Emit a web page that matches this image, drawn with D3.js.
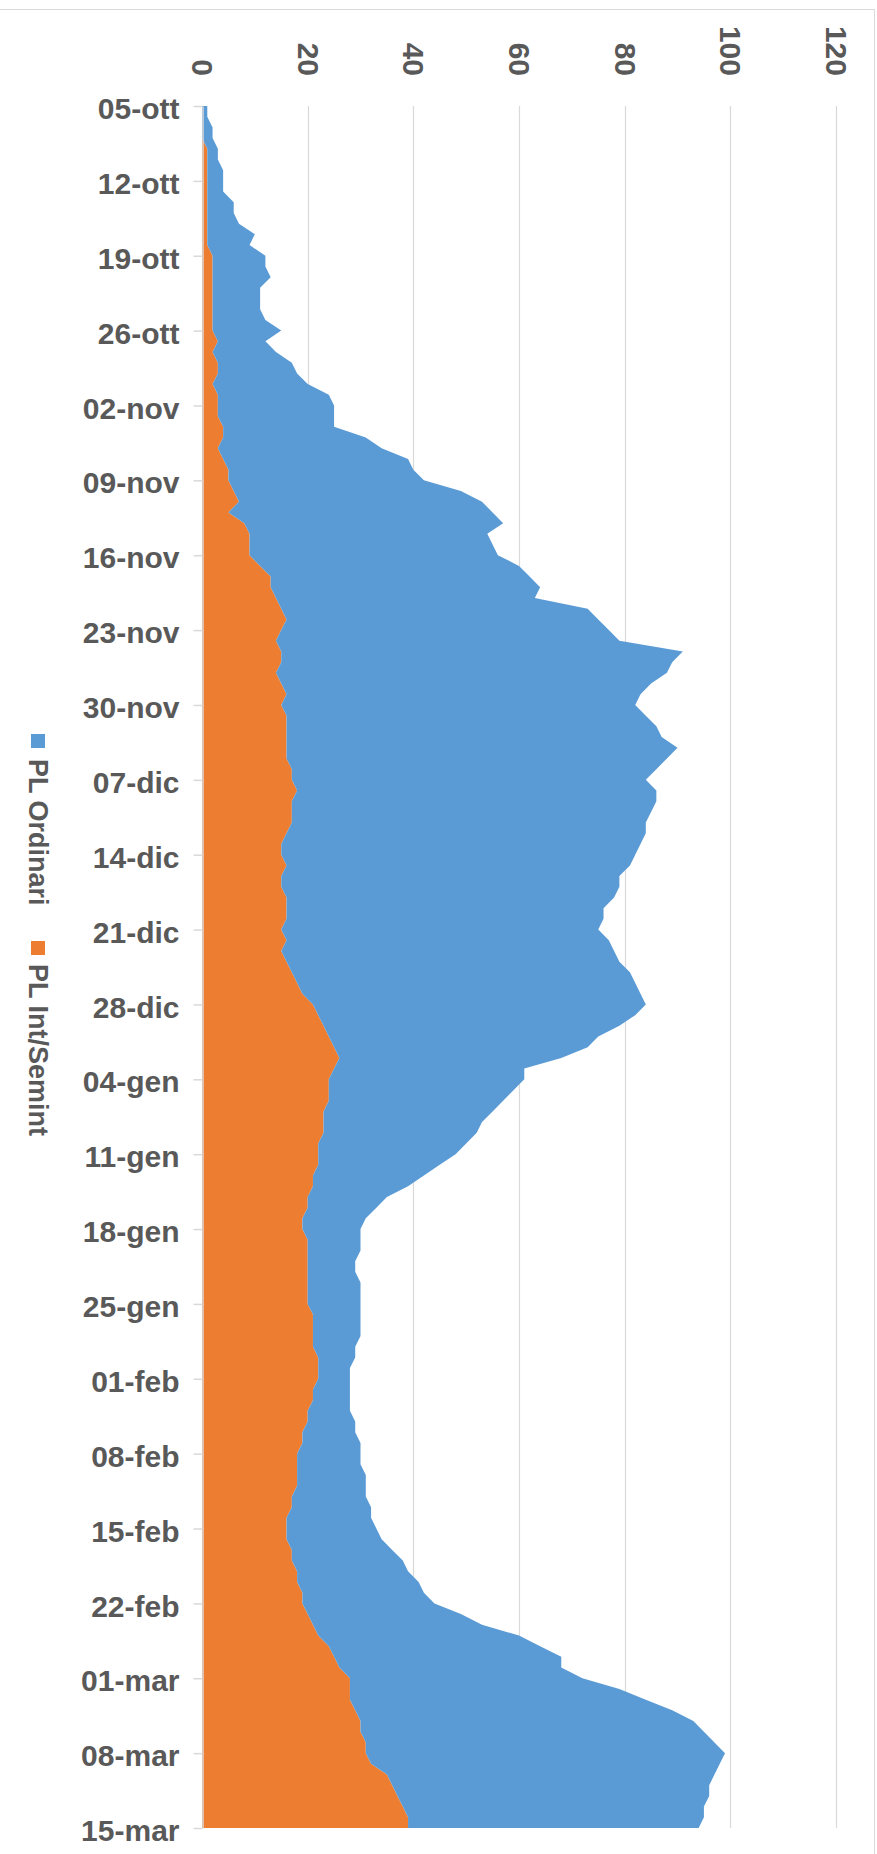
<!DOCTYPE html>
<html><head><meta charset="utf-8">
<script src="https://cdn.jsdelivr.net/npm/d3@7"></script>
<style>
body{margin:0;background:#fff}
svg{display:block}
text{font-family:"Liberation Sans",Arial,sans-serif;font-weight:bold;fill:#595959}
</style>
</head><body>
<svg id="c" width="877" height="1854"></svg>
<script>
// ---- data ----
const startDate = new Date(Date.UTC(2020, 9, 5));
const endDate = new Date(Date.UTC(2021, 2, 15));
const tickLabels = ["05-ott","12-ott","19-ott","26-ott","02-nov","09-nov","16-nov","23-nov","30-nov",
  "07-dic","14-dic","21-dic","28-dic","04-gen","11-gen","18-gen","25-gen","01-feb","08-feb","15-feb",
  "22-feb","01-mar","08-mar","15-mar"];
const valueTicks = [0, 20, 40, 60, 80, 100, 120];
const seriesNames = ["PL Ordinari", "PL Int/Semint"];
const ordinari = [1,1,2,2,2,2,3,3,3,5,5,6,9,8,10,10,11,9,9,9,10,13,9,12,14,15,18,21,22,22,
  21,27,31,35,35,37,43,46,50,49,45,46,47,49,49,51,49,58,59,62,65,76,74,74,70,67,67,68,70,71,
  74,72,69,67,68,69,68,67,68,68,67,65,64,64,62,60,60,60,61,63,63,64,64,64,63,60,56,51,48,42,
  36,37,35,33,32,30,29,28,26,23,21,18,15,13,12,11,10,10,9,9,10,10,10,9,9,9,8,7,6,6,
  7,7,8,9,10,11,12,12,13,13,14,15,16,17,18,19,21,21,23,23,25,29,32,38,40,43,42,44,51,56,
  60,63,65,66,68,66,62,60,59,57,56,55];
const intSemint = [0,0,0,0,1,1,1,1,1,1,1,1,1,1,2,2,2,2,2,2,2,2,3,2,3,3,2,3,3,3,
  4,4,3,4,5,5,6,7,5,8,9,9,9,11,13,13,14,15,16,15,14,15,15,14,15,16,15,16,16,16,
  16,16,17,17,18,17,17,17,16,15,15,16,15,15,16,16,16,15,16,15,16,17,18,19,21,22,23,24,25,26,
  25,24,24,24,23,23,23,22,22,22,21,21,20,20,19,19,20,20,20,20,20,20,20,21,21,21,21,22,22,22,
  21,21,20,20,19,19,18,18,18,18,17,17,16,16,16,17,17,18,18,19,19,20,21,22,24,25,26,28,28,28,
  29,30,30,31,31,32,35,36,37,38,39,39];
const colors = {ordinari: "#5B9BD5", intSemint: "#ED7D31"};

// ---- layout ----
const W = 877, H = 1854;
const plotLeft = 202, plotRight = 836, plotTop = 106, plotBottom = 1828;

const svg = d3.select("#c");
svg.append("rect").attr("width", W).attr("height", H).attr("fill", "#fff");
// chart border (top and right edges visible)
svg.append("rect").attr("x", -2).attr("y", 9.5).attr("width", 876.5).attr("height", H + 10)
  .attr("fill", "none").attr("stroke", "#d9d9d9").attr("stroke-width", 1);

const dates = d3.utcDay.range(startDate, d3.utcDay.offset(endDate, 1));
const rows = dates.map((d, i) => ({date: d, ordinari: ordinari[i], intSemint: intSemint[i]}));
const tickDates = dates.filter((d, i) => i % 7 === 0);

const x = d3.scaleLinear().domain([0, 120]).range([plotLeft, plotRight]);
const y = d3.scaleUtc().domain([startDate, endDate]).range([plotTop, plotBottom]);

// gridlines
svg.append("g").selectAll("line").data(valueTicks.filter(v => v > 0)).join("line")
  .attr("x1", d => Math.round(x(d)) + 0.5).attr("x2", d => Math.round(x(d)) + 0.5)
  .attr("y1", plotTop).attr("y2", plotBottom)
  .attr("stroke", "#d9d9d9").attr("stroke-width", 1.2);

// stacked areas
const stack = d3.stack().keys(["intSemint", "ordinari"]);
const layers = stack(rows);
const area = d3.area()
  .y(d => y(d.data.date))
  .x0(d => x(d[0]))
  .x1(d => x(d[1]));
svg.append("g").selectAll("path").data(layers).join("path")
  .attr("d", area).attr("fill", d => colors[d.key]);

// category axis (left)
const yAxis = d3.axisLeft(y).tickValues(tickDates).tickFormat((d, i) => tickLabels[i])
  .tickSize(9).tickSizeOuter(0).tickPadding(14);
const gy = svg.append("g").attr("transform", `translate(${plotLeft + 0.5},0)`).call(yAxis);
gy.select(".domain").attr("stroke", "#d9d9d9").attr("stroke-width", 1.5);
gy.selectAll(".tick line").attr("stroke", "#d9d9d9").attr("stroke-width", 1.5);
gy.selectAll(".tick text").attr("font-size", 30).attr("font-family", null).attr("fill", "#595959")
  .attr("y", 3);

// value axis (top), labels rotated
const xAxis = d3.axisTop(x).tickValues(valueTicks).tickSize(0);
const gx = svg.append("g").attr("transform", "translate(0,76)").call(xAxis);
gx.select(".domain").remove();
gx.selectAll(".tick text").attr("font-size", 30).attr("font-family", null).attr("fill", "#595959")
  .attr("x", 0).attr("y", 0).attr("dy", "0.35em").attr("text-anchor", "end")
  .attr("transform", "rotate(90)");

// legend (rotated)
const legendItems = [
  {name: seriesNames[0], key: "ordinari", y: 734, ty: 759},
  {name: seriesNames[1], key: "intSemint", y: 941, ty: 964}
];
const lg = svg.append("g");
legendItems.forEach(it => {
  lg.append("rect").attr("x", 31).attr("y", it.y).attr("width", 14).attr("height", 14)
    .attr("fill", colors[it.key]);
  lg.append("text").attr("transform", `translate(38,${it.ty}) rotate(90)`)
    .attr("dy", "0.35em").attr("text-anchor", "start").attr("font-size", 27)
    .text(it.name);
});
</script>
</body></html>
